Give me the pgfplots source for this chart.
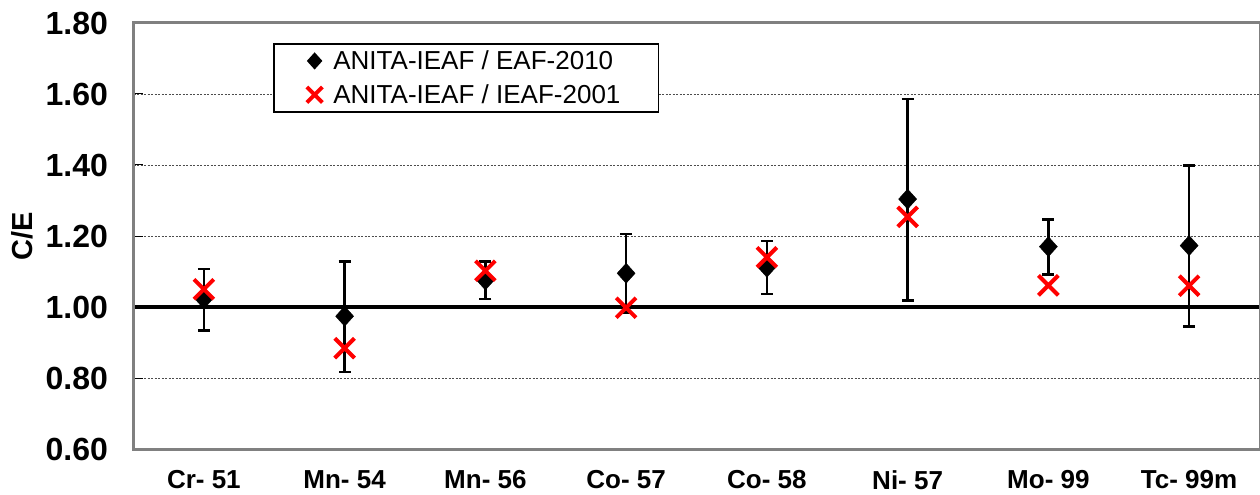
\documentclass[border=0pt]{standalone}
\usepackage{pgfplots}
\pgfplotsset{compat=1.18}
\usepackage{pgfplotstable}
\usepackage{fontspec}
\setmainfont{Liberation Sans}

% C/E ratios per nuclide: ANITA-IEAF vs EAF-2010 (with uncertainty) and vs IEAF-2001
\pgfplotstableread{
x  eaf    ep     em     ieaf
0  1.023  0.084  0.089  1.050
1  0.974  0.154  0.157  0.884
2  1.076  0.052  0.054  1.102
3  1.095  0.111  0.110  0.998
4  1.112  0.074  0.075  1.140
5  1.304  0.282  0.286  1.254
6  1.170  0.077  0.079  1.061
7  1.173  0.225  0.228  1.060
}\ratios

\definecolor{framegray}{RGB}{128,128,128}
\definecolor{xred}{RGB}{255,0,0}

\begin{document}
\begin{tikzpicture}
\begin{axis}[
  scale only axis,
  width=1126pt, height=426pt,
  xmin=-0.5, xmax=7.5,
  ymin=0.6, ymax=1.8,
  clip=false,
  axis line style={draw=none},
  xtick={0,1,2,3,4,5,6,7},
  xticklabels={Cr- 51, Mn- 54, Mn- 56, Co- 57, Co- 58, Ni- 57, Mo- 99, Tc- 99m},
  x tick style={draw=none},
  xticklabel style={font=\fontsize{26}{26}\selectfont\bfseries, inner sep=0pt, yshift=-21pt},
  ytick={0.6,0.8,1.0,1.2,1.4,1.6,1.8},
  ytick pos=left,
  tick align=inside,
  major tick length=9pt,
  y tick style={black, line width=1pt},
  yticklabel style={font=\fontsize{32}{32}\selectfont\bfseries, xshift=-22pt,
    /pgf/number format/.cd, fixed, fixed zerofill, precision=2, assume math mode=true},
  ymajorgrids,
  major grid style={draw=black!70, line width=0.9pt, dash pattern=on 2.2pt off 1.3pt},
  ylabel={C/E},
  ylabel shift=6pt,
  ylabel style={font=\fontsize{29}{29}\selectfont\bfseries},
  every error bar/.append style={black, line width=2.5pt},
  legend style={
    at={(0.124,0.953)}, anchor=north west,
    draw=black, line width=1.5pt, fill=white,
    font=\fontsize{26}{26}\selectfont,
    cells={anchor=west},
    nodes={inner ysep=2.5pt},
    inner xsep=0pt, inner ysep=4.5pt,
    row sep=8.5pt,
  },
]
% reference line C/E = 1
\addplot[black, line width=4pt, forget plot] coordinates {(-0.5,1.0) (7.5,1.0)};

\addplot[
  only marks, mark=diamond*, mark size=10pt,
  mark options={black, fill=black, xscale=1.2},
  legend image code/.code={%
    \path (0pt,0pt) (56pt,0pt);
    \draw[black, fill=black] plot[mark=diamond*, mark size=7.5pt] coordinates {(40pt,0pt)};},
  error bars/.cd, y dir=both, y explicit,
  error bar style={black, line width=2.5pt},
  error mark=-, error mark options={rotate=90, mark size=6pt, line width=2.5pt, black},
] table[x=x, y=eaf, y error plus=ep, y error minus=em] {\ratios};
\addlegendentry{ANITA-IEAF / EAF-2010}

\addplot[
  only marks, mark=x, mark size=14pt,
  mark options={xred, line width=4pt},
  legend image code/.code={%
    \path (0pt,0pt) (56pt,0pt);
    \draw[xred, line width=3.5pt] plot[mark=x, mark size=11pt] coordinates {(40pt,0pt)};},
] table[x=x, y=ieaf] {\ratios};
\addlegendentry{ANITA-IEAF / IEAF-2001\rule{36pt}{0pt}\rule[-14pt]{0pt}{14pt}}

% plot frame
\draw[framegray, line width=3pt] (rel axis cs:1,0) -- (rel axis cs:0,0) -- (rel axis cs:0,1) -- (rel axis cs:1,1);
\draw[framegray, line width=1pt] (rel axis cs:1,0) -- (rel axis cs:1,1);
\end{axis}
\pgfresetboundingbox
\path ([shift={(-133.5pt,-45.5pt)}]current axis.south west) rectangle ([shift={(0.5pt,23pt)}]current axis.north east);
\end{tikzpicture}
\end{document}
